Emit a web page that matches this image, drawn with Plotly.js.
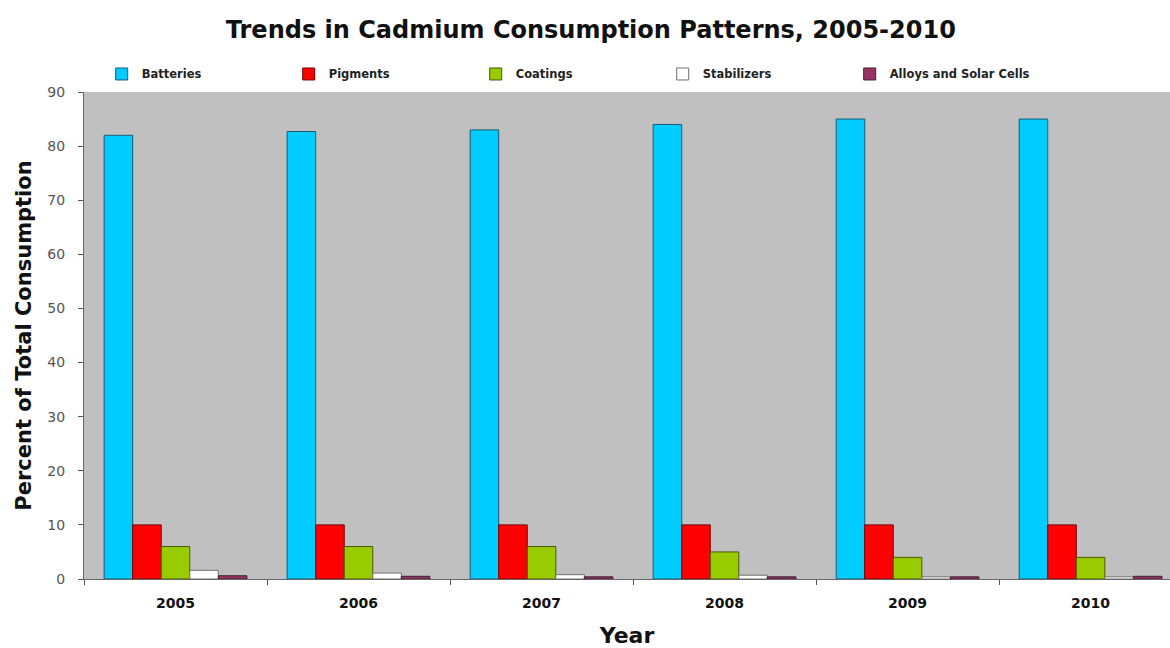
<!DOCTYPE html>
<html>
<head>
<meta charset="utf-8">
<script src="https://cdn.plot.ly/plotly-3.0.1.min.js"></script>
<style>html,body{margin:0;padding:0;background:#fff;}#chart{width:1170px;height:648px;}</style>
</head>
<body>
<div id="chart"></div>
<script>
var years = ["2005", "2006", "2007", "2008", "2009", "2010"];
var seriesNames = ["Batteries", "Pigments", "Coatings", "Stabilizers", "Alloys and Solar Cells"];
var batteries = [82, 82.7, 83, 84, 85, 85];
var pigments = [10, 10, 10, 10, 10, 10];
var coatings = [6, 6, 6, 5, 4, 4];
var stabilizers = [1.6, 1.1, 0.8, 0.7, 0.4, 0.4];
var alloys = [0.6, 0.5, 0.4, 0.4, 0.4, 0.5];

var values = [batteries, pigments, coatings, stabilizers, alloys];
var fills = ["#00CCFF", "#FF0000", "#99CC00", "#FFFFFF", "#993366"];
var outlines = ["#1a5a78", "#7a0000", "#4a5a00", "#707070", "#3a2030"];

var traces = seriesNames.map(function (name, i) {
  return {
    type: "bar",
    name: name,
    x: years,
    y: values[i],
    marker: { color: fills[i], line: { color: outlines[i], width: 1 } },
    hoverinfo: "x+y+name"
  };
});

var boldFont = "DejaVu Sans, Verdana, sans-serif";

var layout = {
  width: 1170,
  height: 648,
  margin: { l: 84, r: 0, t: 92, b: 69, autoexpand: false },
  paper_bgcolor: "#ffffff",
  plot_bgcolor: "#C0C0C0",
  barmode: "group",
  bargap: 0.22,
  bargroupgap: 0,
  font: { family: "Liberation Sans, Arial, sans-serif", color: "#222" },
  title: {
    text: "<b>Trends in Cadmium Consumption Patterns, 2005-2010</b>",
    font: { size: 24, color: "#111", family: boldFont },
    x: 0.505, xanchor: "center",
    y: 1 - 30 / 648, yanchor: "middle", yref: "container"
  },
  showlegend: true,
  legend: {
    orientation: "h",
    x: 0.0163, xanchor: "left",
    y: 1.037, yanchor: "middle",
    entrywidth: 142, entrywidthmode: "pixels",
    font: { size: 11.5, color: "#222", family: boldFont, weight: "bold" },
    traceorder: "normal",
    bgcolor: "rgba(0,0,0,0)"
  },
  xaxis: {
    type: "category",
    range: [-0.5, 5.434],
    tickson: "boundaries",
    ticks: "outside",
    ticklen: 5,
    tickcolor: "#555",
    ticklabelstandoff: 11,
    showline: true,
    linecolor: "#666",
    linewidth: 1,
    showgrid: false,
    automargin: false,
    tickfont: { size: 14, color: "#111", family: boldFont, weight: "bold" },
    title: { text: "<b>Year</b>", font: { size: 22, color: "#111", family: boldFont }, standoff: 18 },
    fixedrange: true
  },
  yaxis: {
    range: [0, 90],
    dtick: 10,
    ticks: "outside",
    ticklen: 5,
    tickcolor: "#555",
    ticklabelstandoff: 10,
    showline: true,
    linecolor: "#666",
    linewidth: 1,
    showgrid: false,
    zeroline: false,
    automargin: false,
    tickfont: { size: 14, color: "#555", family: boldFont },
    title: { text: "<b>Percent of Total Consumption</b>", font: { size: 21, color: "#111", family: boldFont }, standoff: 10 },
    fixedrange: true
  }
};

Plotly.newPlot("chart", traces, layout, { displayModeBar: false, staticPlot: true });
</script>
</body>
</html>
